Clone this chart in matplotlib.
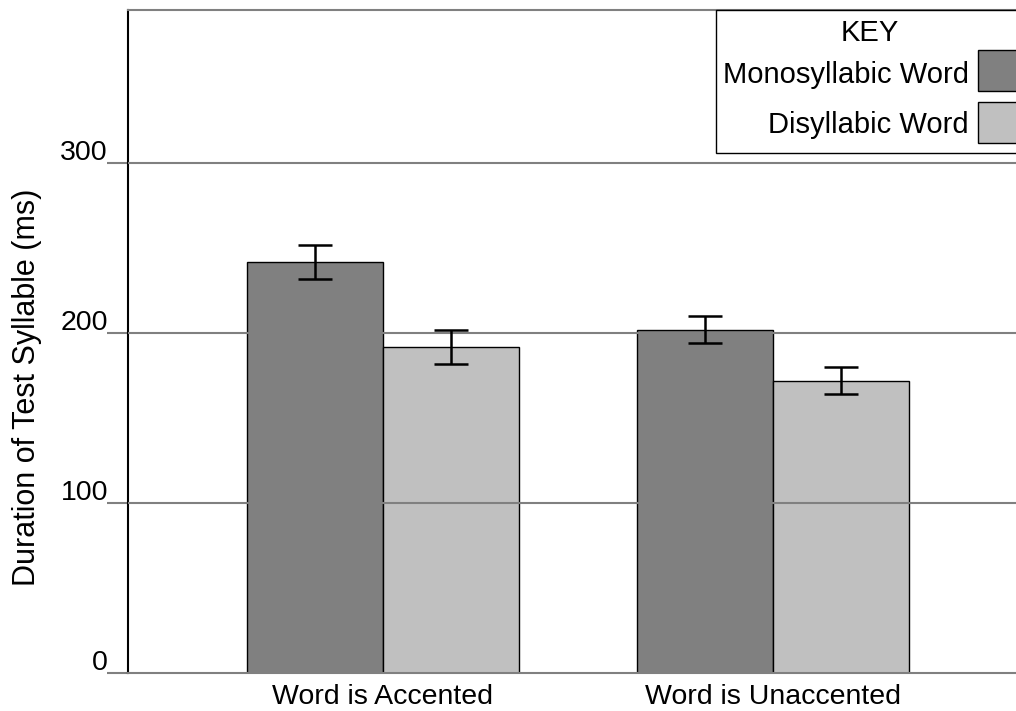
import matplotlib
matplotlib.use("Agg")
import matplotlib.pyplot as plt
from matplotlib.patches import Rectangle
from matplotlib.transforms import blended_transform_factory, offset_copy
import numpy as np

categories = ["Word is Accented", "Word is Unaccented"]
series_names = ["Monosyllabic Word", "Disyllabic Word"]
mono = [242, 202]
mono_err = [10, 8]
di = [192, 172]
di_err = [10, 8]
yticks = [0, 100, 200, 300]
ytick_labels = ["0", "100", "200", "300"]

plt.rcParams['font.family'] = ['Liberation Sans', 'DejaVu Sans']
FS = 20.5
W, H = 1016, 711
fig = plt.figure(figsize=(W / 100, H / 100), dpi=100)
ax = fig.add_axes([128 / W, (H - 673) / H, (1040 - 128) / W, (673 - 10) / H])

x = np.arange(len(categories))
w = 136 / 390
mono_c, di_c = '#808080', '#c0c0c0'
colors = [mono_c, di_c]
ax.bar(x - w / 2, mono, w, color=mono_c, edgecolor='black', linewidth=1, zorder=2)
ax.bar(x + w / 2, di, w, color=di_c, edgecolor='black', linewidth=1, zorder=2)
for xs, vals, errs in [(x - w / 2, mono, mono_err), (x + w / 2, di, di_err)]:
    ax.errorbar(xs, vals, yerr=errs, fmt='none', ecolor='black', elinewidth=1.8,
                capsize=12, capthick=1.8, zorder=4)

ax.set_xlim((128 - 383) / 390, (1040 - 383) / 390)
ax.set_ylim(0, 390)

for yv in yticks[1:]:
    ax.axhline(yv, color='#808080', lw=1.5, zorder=3)

ax.set_yticks(yticks)
ax.tick_params(axis='y', length=15, width=1.5, color='#808080', labelleft=False)
trans = blended_transform_factory(ax.transAxes, ax.transData)
trans = offset_copy(trans, fig=fig, x=-20, y=3, units='dots')
for yv, lab in zip(yticks, ytick_labels):
    ax.text(0, yv, lab, transform=trans, ha='right', va='baseline', fontsize=FS)

ax.set_xticks(x, categories, fontsize=FS)
ax.tick_params(axis='x', length=0, pad=8)

ax.spines['right'].set_visible(False)
ax.spines['top'].set_color('#808080')
ax.spines['top'].set_linewidth(1.5)
ax.spines['bottom'].set_color('#808080')
ax.spines['bottom'].set_linewidth(1.5)
ax.spines['left'].set_color('black')
ax.spines['left'].set_linewidth(1.5)

fig.text(27 / W, 1 - 387 / H, "Duration of Test Syllable (ms)", rotation=90,
         ha='center', va='center', fontsize=22)

# Legend ("KEY") box, drawn in figure pixel coordinates (y measured from top)
def fx(px):
    return px / W

def fy(py):
    return 1 - py / H

fig.patches.append(Rectangle((fx(716), fy(153)), fx(1040) - fx(716), fy(10) - fy(153),
                             transform=fig.transFigure, facecolor='white',
                             edgecolor='black', linewidth=1, zorder=5))
fig.text(fx(870), fy(41), "KEY", ha='center', va='baseline', fontsize=21, zorder=6)
row_tops = [50, 102]
row_base = [83, 133]
for name, col, top, base in zip(series_names, colors, row_tops, row_base):
    fig.text(fx(969), fy(base), name, ha='right', va='baseline', fontsize=21, zorder=6)
    fig.patches.append(Rectangle((fx(978), fy(top + 41)), fx(1040) - fx(978),
                                 fy(top) - fy(top + 41), transform=fig.transFigure,
                                 facecolor=col, edgecolor='black', linewidth=1, zorder=6))

fig.savefig("out.png", dpi=100)
